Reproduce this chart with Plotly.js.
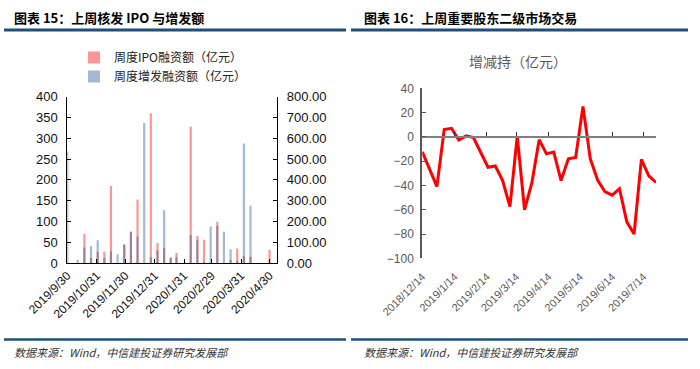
<!DOCTYPE html>
<html><head><meta charset="utf-8">
<script src="https://cdn.plot.ly/plotly-3.0.1.min.js"></script>
<style>html,body{margin:0;padding:0;background:#fff}#chart{width:700px;height:369px}</style>
</head><body><div id="chart"></div>
<script>
// ---------- Left chart: weekly IPO / 增发 amounts ----------
const weekDates = ['2019-09-30','2019-10-11','2019-10-18','2019-10-25','2019-11-01','2019-11-08','2019-11-15','2019-11-22','2019-11-29','2019-12-06','2019-12-13','2019-12-20','2019-12-27','2020-01-03','2020-01-10','2020-01-17','2020-01-23','2020-02-07','2020-02-14','2020-02-21','2020-02-28','2020-03-06','2020-03-13','2020-03-20','2020-03-27','2020-04-03','2020-04-10','2020-04-30'];
const ipoAmounts = [0,0,70,12,27,27,185,0,43,76,153,0,360,48,36,12,24,328,65,56,0,99,0,8,35,17,15,32];
const placementAmounts = [536,16,74,80,110,24,56,42,90,148,126,674,28,60,254,28,28,135,110,5,175,178,150,65,8,575,275,0];
const leftTickDates = ['2019-09-30','2019-10-31','2019-11-30','2019-12-31','2020-01-31','2020-02-29','2020-03-31','2020-04-30'];
const leftTickLabels = ['2019/9/30','2019/10/31','2019/11/30','2019/12/31','2020/1/31','2020/2/29','2020/3/31','2020/4/30'];
const ipoName = '周度IPO融资额（亿元）';
const placementName = '周度增发融资额（亿元）';

// ---------- Right chart: 增减持 ----------
const tradeDates = ['2018-12-14','2018-12-21','2018-12-28','2019-01-04','2019-01-11','2019-01-18','2019-01-25','2019-02-01','2019-02-08','2019-02-15','2019-02-22','2019-03-01','2019-03-08','2019-03-15','2019-03-22','2019-03-29','2019-04-05','2019-04-12','2019-04-19','2019-04-26','2019-05-03','2019-05-10','2019-05-17','2019-05-24','2019-05-31','2019-06-07','2019-06-14','2019-06-21','2019-06-28','2019-07-05','2019-07-12','2019-07-19','2019-07-26'];
const netChange = [-12.3,-26,-41,6,7,-2.6,0.8,-0.5,-13,-25,-24,-36,-57.5,0.5,-60,-38,-2.3,-14,-12.5,-36,-18,-17,25,-18,-35.6,-45,-48,-42.7,-70,-80,-18.5,-32,-37.5];
const rightTickDates = ['2018-12-14','2019-01-14','2019-02-14','2019-03-14','2019-04-14','2019-05-14','2019-06-14','2019-07-14'];
const rightTickLabels = ['2018/12/14','2019/1/14','2019/2/14','2019/3/14','2019/4/14','2019/5/14','2019/6/14','2019/7/14'];
const rightTitle = '增减持（亿元）';

const leftHeader = '图表 15：上周核发 IPO 与增发额';
const rightHeader = '图表 16：上周重要股东二级市场交易';
const sourceText = '数据来源：Wind，中信建投证券研究发展部';

// ---------- layout helpers ----------
const W = 700, H = 369;
const fx = p => p / W;
const fy = p => 1 - p / H;
const CJK = 'Noto Sans CJK SC, sans-serif';
const SANS = 'Liberation Sans, Arial, sans-serif';
const DAY = 86400000;

const y3Bottom = fy(258.3), y3Top = fy(88.3);
const zeroPos = y3Bottom + (0 - (-100)) / (40 - (-100)) * (y3Top - y3Bottom);

const traces = [
  {type:'bar', name: ipoName, x: weekDates, y: ipoAmounts, xaxis:'x', yaxis:'y',
   width: 2.3*DAY, marker:{color:'rgba(255,0,0,0.42)', line:{width:0}}, legend:'legend'},
  {type:'bar', name: placementName, x: weekDates, y: placementAmounts, xaxis:'x', yaxis:'y2',
   width: 2.3*DAY, marker:{color:'rgba(31,90,145,0.42)', line:{width:0}}, legend:'legend'},
  {type:'scatter', mode:'lines', x: tradeDates, y: netChange, xaxis:'x3', yaxis:'y3',
   line:{color:'#FF0000', width:3}, showlegend:false},
  {type:'scatter', mode:'none', x: tradeDates, y: netChange, xaxis:'x4', yaxis:'y3',
   showlegend:false, hoverinfo:'skip'}
];

const layout = {
  width: W, height: H,
  margin:{l:0,r:0,t:0,b:0},
  paper_bgcolor:'#fff', plot_bgcolor:'rgba(0,0,0,0)',
  barmode:'overlay',
  showlegend:true,
  legend:{x: fx(74), y: fy(43), xanchor:'left', yanchor:'top', bgcolor:'rgba(0,0,0,0)',
          font:{family:CJK, size:12, color:'#222'}, tracegroupgap:0, itemwidth:30},
  title:{text: rightTitle, x: fx(518), xanchor:'center', xref:'paper', y: fy(62), yanchor:'middle', yref:'paper',
         font:{family:CJK, size:14, color:'#595959'}},
  xaxis:{domain:[fx(67.3), fx(277.1)], anchor:'y', type:'date', range:['2019-09-30','2020-05-08'],
         tickmode:'array', tickvals:leftTickDates, ticktext:leftTickLabels, tickangle:-45,
         ticks:'inside', ticklen:4, tickcolor:'#000', showline:true, linecolor:'#000', linewidth:1,
         showgrid:false, zeroline:false, tickfont:{family:SANS, size:12, color:'#111'}},
  yaxis:{domain:[fy(263), fy(96.7)], anchor:'x', range:[0,400], tick0:0, dtick:50,
         ticks:'inside', ticklen:4, tickcolor:'#000', showline:true, linecolor:'#000', linewidth:1,
         showgrid:false, zeroline:false, ticklabelstandoff:6, tickfont:{family:SANS, size:13, color:'#111'}},
  yaxis2:{overlaying:'y', side:'right', anchor:'x', range:[0,800], tick0:0, dtick:100, tickformat:'.2f',
          ticks:'inside', ticklen:4, tickcolor:'#000', showline:true, linecolor:'#000', linewidth:1,
          showgrid:false, zeroline:false, ticklabelstandoff:6, tickfont:{family:SANS, size:13, color:'#111'}},
  xaxis3:{domain:[fx(422.3), fx(656)], anchor:'y3', type:'date', range:['2018-12-14','2019-07-26'],
          tickmode:'array', tickvals:rightTickDates, ticktext:rightTickLabels, tickangle:-45,
          ticks:'', showline:false, showgrid:false, zeroline:false, ticklabelstandoff:9,
          tickfont:{family:SANS, size:11, color:'#595959'}},
  xaxis4:{overlaying:'x3', anchor:'free', position: zeroPos, type:'date', range:['2018-12-14','2019-07-26'],
          tickmode:'array', tickvals:rightTickDates, showticklabels:false,
          ticks:'inside', ticklen:4, tickcolor:'#333', showline:true, linecolor:'#808080', linewidth:2,
          showgrid:false, zeroline:false},
  yaxis3:{domain:[y3Bottom, y3Top], anchor:'x3', range:[-100,40], tick0:-100, dtick:20,
          ticks:'inside', ticklen:4, tickcolor:'#595959', showline:true, linecolor:'#595959', linewidth:2,
          showgrid:false, zeroline:false, ticklabelstandoff:4, tickfont:{family:SANS, size:12, color:'#595959'}},
  shapes:[
    {type:'line', xref:'paper', yref:'paper', x0:fx(4), x1:fx(346), y0:fy(30), y1:fy(30), line:{color:'#1F4E79', width:3}},
    {type:'line', xref:'paper', yref:'paper', x0:fx(351), x1:fx(688), y0:fy(30), y1:fy(30), line:{color:'#1F4E79', width:3}},
    {type:'line', xref:'paper', yref:'paper', x0:fx(4), x1:fx(346), y0:fy(339.5), y1:fy(339.5), line:{color:'#1F4E79', width:2.5}},
    {type:'line', xref:'paper', yref:'paper', x0:fx(351), x1:fx(688), y0:fy(339.5), y1:fy(339.5), line:{color:'#1F4E79', width:2.5}}
  ],
  annotations:[
    {text:'<b>'+leftHeader+'</b>', xref:'paper', yref:'paper', x:fx(12), y:fy(17), xanchor:'left', yanchor:'middle', showarrow:false,
     font:{family:CJK, size:13, color:'#000'}},
    {text:'<b>'+rightHeader+'</b>', xref:'paper', yref:'paper', x:fx(362), y:fy(17), xanchor:'left', yanchor:'middle', showarrow:false,
     font:{family:CJK, size:13, color:'#000'}},
    {text:'<i>'+sourceText+'</i>', xref:'paper', yref:'paper', x:fx(12), y:fy(352), xanchor:'left', yanchor:'middle', showarrow:false,
     font:{family:CJK, size:11, color:'#333'}},
    {text:'<i>'+sourceText+'</i>', xref:'paper', yref:'paper', x:fx(362), y:fy(352), xanchor:'left', yanchor:'middle', showarrow:false,
     font:{family:CJK, size:11, color:'#333'}}
  ]
};

Plotly.newPlot('chart', traces, layout, {displayModeBar:false, staticPlot:true});
</script>
</body></html>
